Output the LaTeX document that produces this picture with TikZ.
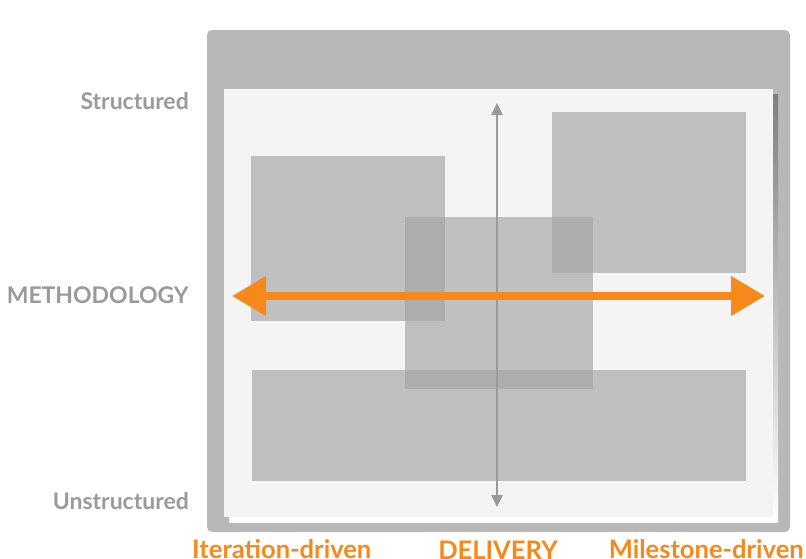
\documentclass[tikz,border=0pt]{standalone}
\usepackage{fontspec}
\usepackage{tikz}
\usetikzlibrary{arrows.meta}
\newfontfamily\lbl{Lato}

\definecolor{frame}{HTML}{B8B8B8}
\definecolor{panel}{HTML}{F4F4F4}
\definecolor{shade}{HTML}{878E92}
\definecolor{block}{HTML}{A4A4A4}
\definecolor{axisgray}{HTML}{9A9A9A}
\definecolor{orng}{HTML}{F7891A}

\tikzset{
  blockfill/.style={fill=block, fill opacity=0.66},
  sidelabel/.style={anchor=east, inner sep=0pt, text=axisgray, font=\lbl\bfseries\fontsize{19.6}{23}\selectfont},
  footlabel/.style={inner sep=0pt, text=orng, font=\lbl\bfseries\fontsize{21.8}{25}\selectfont},
}

\begin{document}
\begin{tikzpicture}[x=0.03cm, y=-0.03cm]
        \useasboundingbox (0,0) rectangle (806,559);
        \clip (0,0) rectangle (806,559);
        % frame, shadow and panel
        \fill[frame, rounded corners=1.5mm] (207,30) rectangle (790,532);
        \fill[shade] (229,94) rectangle (778,522);
        \fill[panel] (224,89) rectangle (773,517);
        % overlapping blocks
        \fill[blockfill] (251,156) rectangle (445,321);
        \fill[blockfill] (552,112) rectangle (746,273);
        \fill[blockfill] (252,370) rectangle (746,481);
        \fill[blockfill] (405,217) rectangle (593,389);
        % axes
        \coordinate (top) at (497,103);
        \coordinate (bottom) at (497,507);
        \coordinate (west) at (232,296);
        \coordinate (east) at (765,296);
        \draw[axisgray, line width=1.2pt, {Triangle[length=3.6mm, width=3.4mm]}-{Triangle[length=3.6mm, width=3.4mm]}] (top) -- (bottom);
        \draw[orng, line width=6.6pt, {Triangle[length=10.2mm, width=11.4mm]}-{Triangle[length=10.2mm, width=11.4mm]}] (west) -- (east);
        % labels
        \node[sidelabel] (structured) at (189,101) {Structured};
        \node[sidelabel] (method) at (189,295) {METHODOLOGY};
        \node[sidelabel] (unstructured) at (189,501) {Unstructured};
        \node[footlabel, anchor=north west] (iter) at (192,539) {Iteration-driven};
        \node[footlabel, anchor=north] (delivery) at (498,541) {DELIVERY};
        \node[footlabel, anchor=north east] (mile) at (804,539) {Milestone-driven};
      \end{tikzpicture}
\end{document}
